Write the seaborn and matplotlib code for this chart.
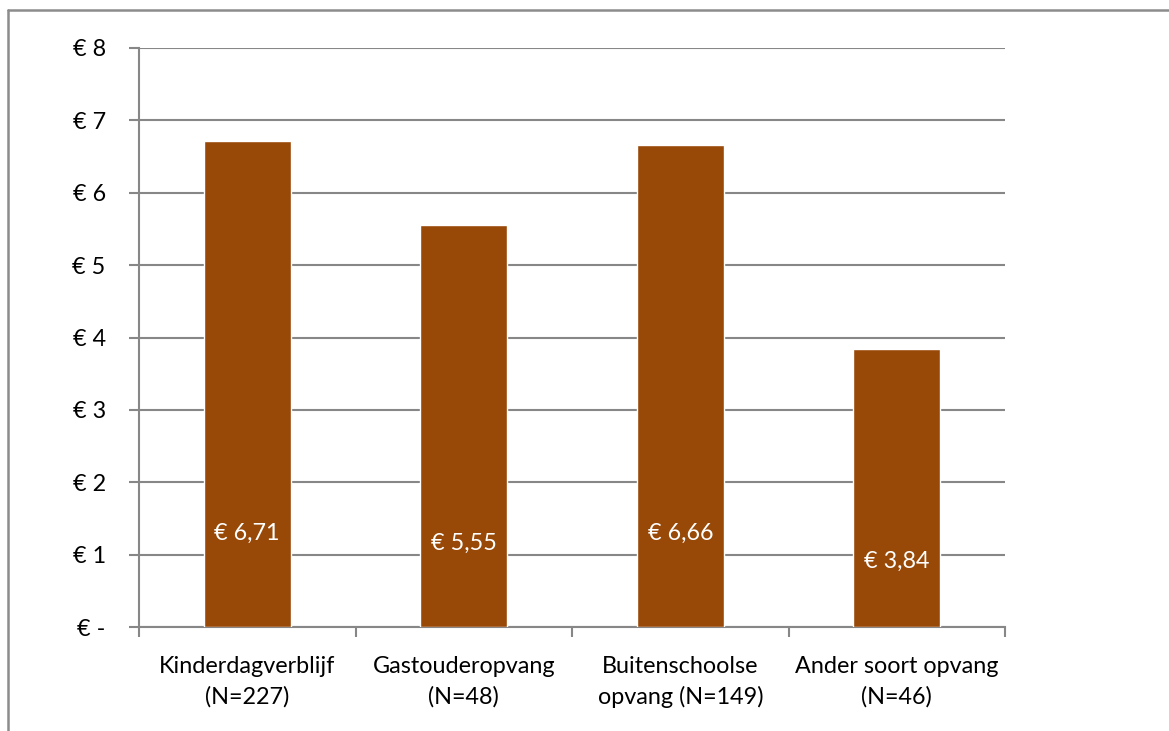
import matplotlib
matplotlib.use("Agg")
import matplotlib.pyplot as plt
import seaborn as sns
import pandas as pd
from matplotlib.lines import Line2D

categories = ["Kinderdagverblijf\n(N=227)", "Gastouderopvang\n(N=48)",
              "Buitenschoolse\nopvang (N=149)", "Ander soort opvang\n(N=46)"]
values = [6.71, 5.55, 6.66, 3.84]
value_labels = ["€ 6,71", "€ 5,55", "€ 6,66", "€ 3,84"]
label_y = [1.30, 1.15, 1.30, 0.91]
ytick_vals = [0, 1, 2, 3, 4, 5, 6, 7, 8]
ytick_labels = ["€ -", "€ 1", "€ 2", "€ 3", "€ 4", "€ 5", "€ 6", "€ 7", "€ 8"]

sns.set_theme(style="white")
plt.rcParams['font.family'] = ['Lato', 'DejaVu Sans']

df = pd.DataFrame({"cat": categories, "val": values})

W, H = 1169, 731
fig = plt.figure(figsize=(W / 100, H / 100), dpi=100)
fig.patch.set_facecolor("white")
ax = fig.add_axes([139 / W, 1 - 627 / H, (1005 - 139) / W, (627 - 48) / H])

sns.barplot(data=df, x="cat", y="val", color="#984807", saturation=1,
            width=0.40, ax=ax, zorder=3)

grid_c = "#878787"
ax.set_ylim(0, 8)
ax.set_xlim(-0.5, 3.5)
ax.set_yticks(ytick_vals)
ax.set_yticklabels(ytick_labels)
ax.yaxis.grid(True, color=grid_c, linewidth=1.5, zorder=0)
ax.set_axisbelow(True)
ax.set_xlabel("")
ax.set_ylabel("")

for s in ["top", "right"]:
    ax.spines[s].set_visible(False)
for s in ["left", "bottom"]:
    ax.spines[s].set_color(grid_c)
    ax.spines[s].set_linewidth(1.5)

fs = 16.8
ax.tick_params(axis="y", which="major", left=True, length=7, width=1.5,
               color=grid_c, pad=17, labelsize=fs, labelcolor="black")
ax.tick_params(axis="x", which="major", bottom=False, length=0, pad=21,
               labelsize=fs, labelcolor="black")
ax.set_xticks([-0.5, 0.5, 1.5, 2.5, 3.5], minor=True)
ax.tick_params(axis="x", which="minor", bottom=True, length=7, width=1.5,
               color=grid_c)
for lbl in ax.get_xticklabels():
    lbl.set_horizontalalignment("center")
    lbl.set_linespacing(1.5)

for i, (t, y) in enumerate(zip(value_labels, label_y)):
    ax.text(i, y, t, ha="center", va="center", color="white", fontsize=fs,
            zorder=5)

# outer chart border
fig.add_artist(Line2D([8 / W, 1.0], [1 - 10 / H, 1 - 10 / H],
                      transform=fig.transFigure, color="#8c8c8c", linewidth=1.8))
fig.add_artist(Line2D([8 / W, 8 / W], [1 - 10 / H, 0.0],
                      transform=fig.transFigure, color="#8c8c8c", linewidth=1.8))

fig.savefig("out.png", dpi=100, facecolor="white")
